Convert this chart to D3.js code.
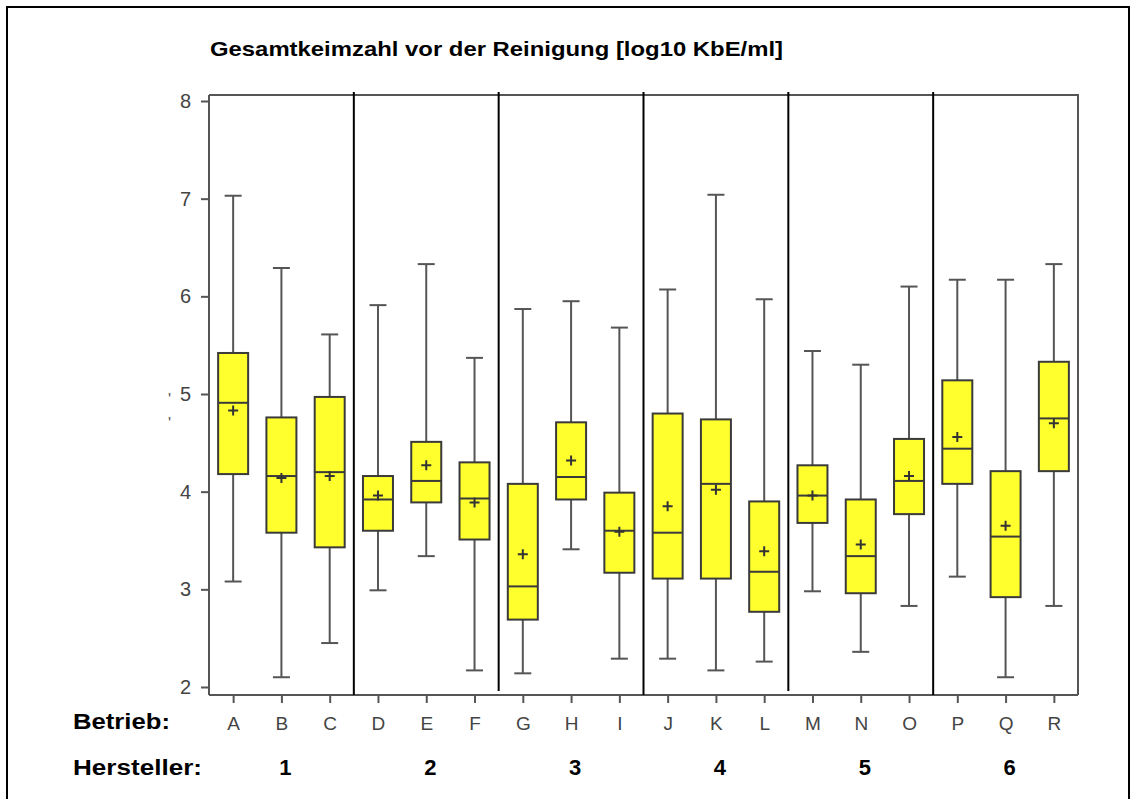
<!DOCTYPE html>
<html>
<head>
<meta charset="utf-8">
<script src="https://cdnjs.cloudflare.com/ajax/libs/d3/7.8.5/d3.min.js"></script>
<style>
  body { margin: 0; background: #fff; }
  svg { display: block; }
</style>
</head>
<body>
<div id="chart"></div>
<script>
// data
var betrieb = ["A","B","C","D","E","F","G","H","I","J","K","L","M","N","O","P","Q","R"];
var hersteller = ["1","1","1","2","2","2","3","3","3","4","4","4","5","5","5","6","6","6"];
var whiskerHigh = [7.03, 6.29, 5.61, 5.91, 6.33, 5.37, 5.87, 5.95, 5.68, 6.07, 7.04, 5.97, 5.44, 5.30, 6.10, 6.17, 6.17, 6.33];
var q3          = [5.42, 4.76, 4.97, 4.16, 4.51, 4.30, 4.08, 4.71, 3.99, 4.80, 4.74, 3.90, 4.27, 3.92, 4.54, 5.14, 4.21, 5.33];
var median      = [4.91, 4.16, 4.20, 3.92, 4.11, 3.93, 3.03, 4.15, 3.60, 3.58, 4.08, 3.18, 3.96, 3.34, 4.11, 4.44, 3.54, 4.75];
var mean        = [4.83, 4.14, 4.16, 3.96, 4.27, 3.89, 3.36, 4.32, 3.59, 3.85, 4.02, 3.39, 3.96, 3.46, 4.16, 4.56, 3.65, 4.70];
var q1          = [4.18, 3.58, 3.43, 3.60, 3.89, 3.51, 2.69, 3.92, 3.17, 3.11, 3.11, 2.77, 3.68, 2.96, 3.77, 4.08, 2.92, 4.21];
var whiskerLow  = [3.08, 2.10, 2.45, 2.99, 3.34, 2.17, 2.14, 3.41, 2.29, 2.29, 2.17, 2.26, 2.98, 2.36, 2.83, 3.13, 2.10, 2.83];
var yTicks = [2, 3, 4, 5, 6, 7, 8];
var titleText = "Gesamtkeimzahl vor der Reinigung [log10 KbE/ml]";

var W = 1136, H = 799;
var plot = {left: 209, right: 1078};

var svg = d3.select("#chart")
    .append("svg")
    .attr("width", W)
    .attr("height", H);

// outer frame (bottom edge runs off the picture)
svg.append("rect")
    .attr("x", 7).attr("y", 7)
    .attr("width", 1122).attr("height", 820)
    .attr("fill", "none")
    .attr("stroke", "#000")
    .attr("stroke-width", 2);

var x = d3.scalePoint()
    .domain(betrieb)
    .range([plot.left, plot.right])
    .padding(0.5);

var y = d3.scaleLinear()
    .domain([2, 8])
    .range([687, 101]);

var yTop = y(8.062), yBottom = y(1.918);

var rows = betrieb.map(function(b, i) {
    return {b: b, h: hersteller[i], hi: whiskerHigh[i], q3: q3[i], med: median[i],
            mean: mean[i], q1: q1[i], lo: whiskerLow[i]};
});

// title
svg.append("text")
    .attr("x", 210)
    .attr("y", 56)
    .attr("textLength", 573)
    .attr("lengthAdjust", "spacingAndGlyphs")
    .style("font-family", "Arial, 'Liberation Sans', sans-serif")
    .style("font-weight", "bold")
    .style("font-size", "21px")
    .text(titleText);

// plot frame top + right
svg.append("path")
    .attr("d", "M" + plot.left + "," + yTop + "H" + plot.right + "V" + yBottom)
    .attr("fill", "none")
    .attr("stroke", "#555")
    .attr("stroke-width", 2);

// y axis
var yAxis = svg.append("g")
    .attr("transform", "translate(" + plot.left + ",0)")
    .call(d3.axisLeft(y).tickValues(yTicks).tickSize(8).tickPadding(10).tickFormat(d3.format("d")));
yAxis.select(".domain").attr("d", "M0," + yTop + "V" + yBottom).attr("stroke", "#555").attr("stroke-width", 2);
yAxis.selectAll(".tick line").attr("stroke", "#555").attr("stroke-width", 2);
yAxis.selectAll(".tick text")
    .attr("fill", "#444")
    .style("font-family", "'Liberation Sans', Arial, sans-serif")
    .style("font-size", "20px");

// leftover bits of a clipped y label
svg.selectAll(".ylab")
    .data(["'", "'"])
    .enter()
    .append("text")
    .attr("x", 168)
    .attr("y", function(d, i) { return 405 + i * 24; })
    .attr("fill", "#555")
    .style("font-family", "'Liberation Sans', Arial, sans-serif")
    .style("font-size", "16px")
    .text(function(d) { return d; });

// x axis
var xAxis = svg.append("g")
    .attr("transform", "translate(0," + yBottom + ")")
    .call(d3.axisBottom(x).tickSize(8).tickPadding(14));
xAxis.select(".domain").attr("d", "M" + plot.left + ",0H" + plot.right).attr("stroke", "#555").attr("stroke-width", 2);
xAxis.selectAll(".tick line").attr("stroke", "#555").attr("stroke-width", 2);
xAxis.selectAll(".tick text")
    .attr("fill", "#444")
    .style("font-family", "'Liberation Sans', Arial, sans-serif")
    .style("font-size", "19px");

// group separators
var seps = [];
for (var i = 1; i < rows.length; i++) {
    if (rows[i].h !== rows[i-1].h) seps.push((x(rows[i-1].b) + x(rows[i].b)) / 2);
}
svg.selectAll(".sep")
    .data(seps)
    .enter()
    .append("line")
    .attr("x1", d => d).attr("x2", d => d)
    .attr("y1", yTop - 3)
    .attr("y2", (d, i) => i % 2 === 1 ? yBottom - 4 : yBottom)
    .attr("stroke", "#000")
    .attr("stroke-width", 2);

// boxes
var boxW = 30, capW = 17, plus = 5;
var g = svg.append("g")
    .selectAll("g")
    .data(rows)
    .enter()
    .append("g")
    .attr("transform", d => "translate(" + x(d.b) + ",0)");

g.append("line")
    .attr("y1", d => y(d.hi)).attr("y2", d => y(d.q3))
    .attr("stroke", "#555").attr("stroke-width", 2);
g.append("line")
    .attr("y1", d => y(d.q1)).attr("y2", d => y(d.lo))
    .attr("stroke", "#555").attr("stroke-width", 2);
g.append("line")
    .attr("x1", -capW / 2).attr("x2", capW / 2)
    .attr("y1", d => y(d.hi)).attr("y2", d => y(d.hi))
    .attr("stroke", "#555").attr("stroke-width", 2);
g.append("line")
    .attr("x1", -capW / 2).attr("x2", capW / 2)
    .attr("y1", d => y(d.lo)).attr("y2", d => y(d.lo))
    .attr("stroke", "#555").attr("stroke-width", 2);
g.append("rect")
    .attr("x", -boxW / 2)
    .attr("width", boxW)
    .attr("y", d => y(d.q3))
    .attr("height", d => y(d.q1) - y(d.q3))
    .attr("fill", "#ffff2e")
    .attr("stroke", "#3a3a3a")
    .attr("stroke-width", 2);
g.append("line")
    .attr("x1", -boxW / 2).attr("x2", boxW / 2)
    .attr("y1", d => y(d.med)).attr("y2", d => y(d.med))
    .attr("stroke", "#3a3a3a").attr("stroke-width", 2);
g.append("path")
    .attr("d", d => "M" + (-plus) + "," + y(d.mean) + "h" + (2 * plus) + "M0," + (y(d.mean) - plus) + "v" + (2 * plus))
    .attr("stroke", "#333").attr("stroke-width", 2);

// row labels
var lab = {font: "Arial, 'Liberation Sans', sans-serif"};
svg.append("text")
    .attr("x", 73).attr("y", 729)
    .attr("textLength", 97).attr("lengthAdjust", "spacingAndGlyphs")
    .style("font-family", lab.font).style("font-weight", "bold").style("font-size", "22px")
    .text("Betrieb:");
svg.append("text")
    .attr("x", 73).attr("y", 775)
    .attr("textLength", 129).attr("lengthAdjust", "spacingAndGlyphs")
    .style("font-family", lab.font).style("font-weight", "bold").style("font-size", "22px")
    .text("Hersteller:");

// manufacturer numbers, centred under each group
var groups = d3.groups(rows, d => d.h);
svg.selectAll(".grp")
    .data(groups)
    .enter()
    .append("text")
    .attr("x", d => d3.mean(d[1], r => x(r.b)) + 4)
    .attr("y", 775)
    .style("text-anchor", "middle")
    .style("font-family", lab.font).style("font-weight", "bold").style("font-size", "22px")
    .text(d => d[0]);
</script>
</body>
</html>
